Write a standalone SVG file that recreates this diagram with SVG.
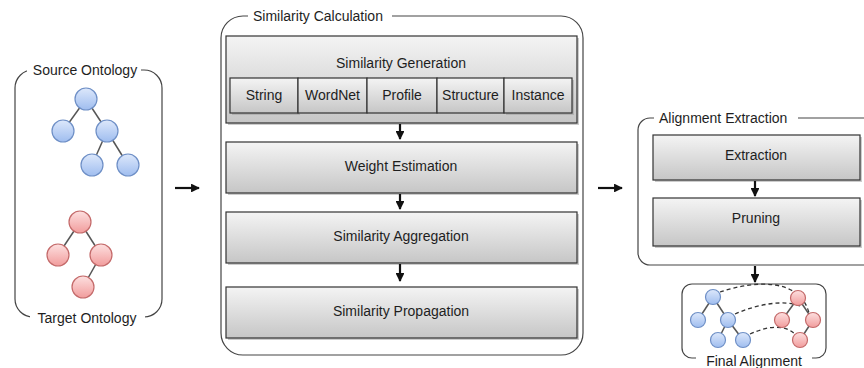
<svg xmlns="http://www.w3.org/2000/svg" width="864" height="368" viewBox="0 0 864 368">
<defs>
<linearGradient id="gbox" x1="0" y1="0" x2="0" y2="1"><stop offset="0" stop-color="#f4f4f4"/><stop offset="1" stop-color="#c6c6c6"/></linearGradient>
<linearGradient id="gblue" x1="0" y1="0" x2="0" y2="1"><stop offset="0" stop-color="#dde8fb"/><stop offset="1" stop-color="#9fbdef"/></linearGradient>
<linearGradient id="gred" x1="0" y1="0" x2="0" y2="1"><stop offset="0" stop-color="#fde0e0"/><stop offset="1" stop-color="#f19c9c"/></linearGradient>
<marker id="ah" viewBox="0 0 10 10" refX="9" refY="5" markerWidth="4" markerHeight="4" orient="auto"><path d="M0,0 L10,5 L0,10 z" fill="#111"/></marker>
</defs>
<style>
text{font-family:"Liberation Sans",Arial,sans-serif;font-size:14px;fill:#1e1e1e;}
.c{text-anchor:middle;}
.grp{fill:none;stroke:#444;stroke-width:1.2;}
.gap{fill:#fff;stroke:none;}
.box{fill:url(#gbox);stroke:#333;stroke-width:1.2;}
.sh{fill:#999;opacity:0.5;}
.bn{fill:url(#gblue);stroke:#6e8fc6;stroke-width:1.2;}
.rn{fill:url(#gred);stroke:#c46a6a;stroke-width:1.2;}
.te{stroke:#555;stroke-width:1.5;}
.arr{stroke:#111;stroke-width:2.2;fill:none;marker-end:url(#ah);}
.dash{stroke:#333;stroke-width:1.3;fill:none;stroke-dasharray:4 3;}
</style>

<g id="source-ontology">
<rect class="grp" x="15" y="70" width="147" height="247" rx="18"/>
<rect class="gap" x="27" y="62" width="114" height="16"/>
<text class="c" x="85" y="75">Source Ontology</text>
<rect class="gap" x="30" y="310" width="115" height="16"/>
<text class="c" x="87" y="323">Target Ontology</text>
<line class="te" x1="86" y1="99" x2="63" y2="131"/>
<line class="te" x1="86" y1="99" x2="107" y2="131"/>
<line class="te" x1="107" y1="131" x2="92" y2="165"/>
<line class="te" x1="107" y1="131" x2="128" y2="165"/>
<circle class="bn" cx="86" cy="99" r="11"/>
<circle class="bn" cx="63" cy="131" r="11"/>
<circle class="bn" cx="107" cy="131" r="11"/>
<circle class="bn" cx="92" cy="165" r="11"/>
<circle class="bn" cx="128" cy="165" r="11"/>
<line class="te" x1="80" y1="222" x2="58" y2="255"/>
<line class="te" x1="80" y1="222" x2="101" y2="255"/>
<line class="te" x1="101" y1="255" x2="83" y2="287"/>
<circle class="rn" cx="80" cy="222" r="11"/>
<circle class="rn" cx="58" cy="255" r="11"/>
<circle class="rn" cx="101" cy="255" r="11"/>
<circle class="rn" cx="83" cy="287" r="11"/>
</g>

<g id="similarity-calculation">
<rect class="grp" x="221" y="16" width="362" height="339" rx="22"/>
<rect class="gap" x="248" y="8" width="144" height="16"/>
<text x="253" y="21">Similarity Calculation</text>
</g>

<g id="similarity-generation">
<rect class="sh" x="228" y="38" width="351" height="87"/>
<rect class="box" x="226" y="36" width="351" height="87"/>
<text class="c" x="401" y="68">Similarity Generation</text>
<g id="gen-string"><rect class="sh" x="232" y="80" width="68" height="35"/><rect class="box" x="230" y="78" width="68" height="35"/><text class="c" x="264" y="100">String</text></g>
<g id="gen-wordnet"><rect class="box" x="298" y="78" width="69" height="35"/><text class="c" x="332.5" y="100">WordNet</text></g>
<g id="gen-profile"><rect class="box" x="367" y="78" width="70" height="35"/><text class="c" x="402" y="100">Profile</text></g>
<g id="gen-structure"><rect class="box" x="437" y="78" width="67" height="35"/><text class="c" x="470.5" y="100">Structure</text></g>
<g id="gen-instance"><rect class="sh" x="506" y="80" width="68" height="35"/><rect class="box" x="504" y="78" width="68" height="35"/><text class="c" x="538" y="100">Instance</text></g>
</g>

<g id="weight-estimation">
<rect class="sh" x="228" y="144" width="351" height="51"/>
<rect class="box" x="226" y="142" width="351" height="51"/>
<text class="c" x="401" y="171">Weight Estimation</text>
</g>
<g id="similarity-aggregation">
<rect class="sh" x="228" y="214" width="351" height="51"/>
<rect class="box" x="226" y="212" width="351" height="51"/>
<text class="c" x="401" y="241">Similarity Aggregation</text>
</g>
<g id="similarity-propagation">
<rect class="sh" x="228" y="289" width="351" height="51"/>
<rect class="box" x="226" y="287" width="351" height="51"/>
<text class="c" x="401" y="316">Similarity Propagation</text>
</g>

<g id="alignment-extraction">
<rect class="grp" x="638" y="118" width="240" height="147" rx="12"/>
<rect class="gap" x="654" y="110" width="144" height="16"/>
<text x="659" y="123">Alignment Extraction</text>
</g>
<g id="extraction">
<rect class="sh" x="655" y="137" width="207" height="45"/>
<rect class="box" x="653" y="135" width="207" height="45"/>
<text class="c" x="756" y="160">Extraction</text>
</g>
<g id="pruning">
<rect class="sh" x="655" y="200" width="207" height="48"/>
<rect class="box" x="653" y="198" width="207" height="48"/>
<text class="c" x="756" y="223">Pruning</text>
</g>

<g id="final-alignment">
<rect class="grp" x="682" y="284" width="144" height="74" rx="10"/>
<rect class="gap" x="696" y="354" width="116" height="14"/>
<text class="c" x="754" y="366">Final Alignment</text>
<path class="dash" d="M720,292 C755,280 800,278 809,313"/>
<path class="dash" d="M735,314 C760,303 785,300 800,306"/>
<path class="dash" d="M750,334 C770,325 785,325 795,334"/>
<line class="te" x1="713" y1="297" x2="698" y2="320"/>
<line class="te" x1="713" y1="297" x2="728" y2="320"/>
<line class="te" x1="728" y1="320" x2="718" y2="340"/>
<line class="te" x1="728" y1="320" x2="743" y2="340"/>
<line class="te" x1="798" y1="298" x2="782" y2="320"/>
<line class="te" x1="798" y1="298" x2="813" y2="320"/>
<line class="te" x1="813" y1="320" x2="800" y2="340"/>
<circle class="bn" cx="713" cy="297" r="7.5"/>
<circle class="bn" cx="698" cy="320" r="7.5"/>
<circle class="bn" cx="728" cy="320" r="7.5"/>
<circle class="bn" cx="718" cy="340" r="7.5"/>
<circle class="bn" cx="743" cy="340" r="7.5"/>
<circle class="rn" cx="798" cy="298" r="7.5"/>
<circle class="rn" cx="782" cy="320" r="7.5"/>
<circle class="rn" cx="813" cy="320" r="7.5"/>
<circle class="rn" cx="800" cy="340" r="7.5"/>
</g>

<g id="connectors">
<line class="arr" x1="175" y1="188" x2="199" y2="188"/>
<line class="arr" x1="598" y1="188" x2="622" y2="188"/>
<line class="arr" x1="400" y1="124" x2="400" y2="139"/>
<line class="arr" x1="400" y1="194" x2="400" y2="209"/>
<line class="arr" x1="400" y1="264" x2="400" y2="281"/>
<line class="arr" x1="755" y1="181" x2="755" y2="196"/>
<line class="arr" x1="755" y1="266" x2="755" y2="282"/>
</g>
</svg>
